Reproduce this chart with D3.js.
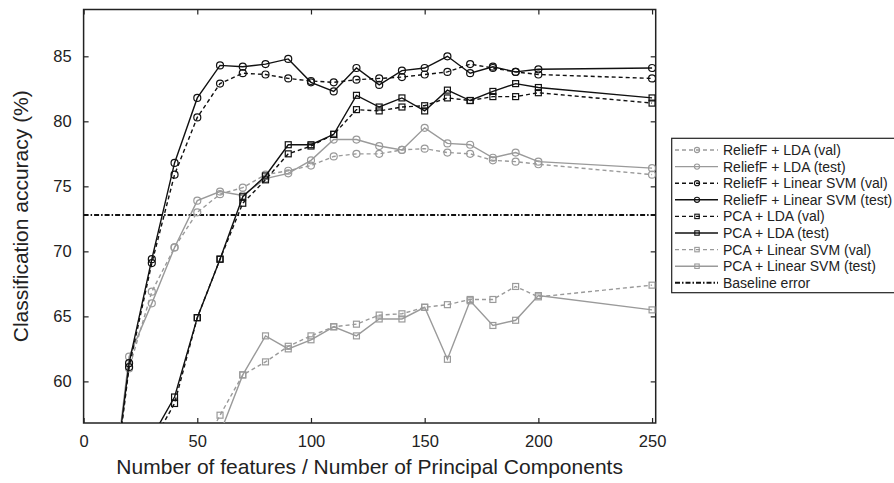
<!DOCTYPE html>
<html>
<head>
<meta charset="utf-8">
<script src="https://cdn.jsdelivr.net/npm/d3@7"></script>
<style>
  body { margin: 0; background: #fff; }
  svg { display: block; font-family: "Liberation Sans", Arial, sans-serif; }
</style>
</head>
<body>
<svg id="chart" width="894" height="483"></svg>
<script>
// --- Data ---
const features = [10, 20, 30, 40, 50, 60, 70, 80, 90, 100, 110, 120, 130, 140, 150, 160, 170, 180, 190, 200, 250];

const reliefLdaVal   = [48.0, 61.0, 66.9, 70.3, 73.0, 74.4, 74.9, 75.9, 76.2, 76.6, 77.3, 77.5, 77.5, 77.8, 77.9, 77.6, 77.5, 77.0, 76.9, 76.7, 75.9];
const reliefLdaTest  = [47.5, 61.9, 66.0, 70.3, 73.9, 74.6, 74.3, 75.6, 76.0, 77.0, 78.6, 78.6, 78.1, 77.8, 79.5, 78.3, 78.2, 77.2, 77.6, 76.9, 76.4];
const reliefSvmVal   = [47.0, 61.1, 69.1, 75.9, 80.3, 82.9, 83.7, 83.6, 83.3, 83.1, 83.0, 83.2, 83.3, 83.4, 83.6, 83.8, 84.4, 84.1, 83.8, 83.6, 83.3];
const reliefSvmTest  = [47.5, 61.4, 69.4, 76.8, 81.8, 84.3, 84.2, 84.4, 84.8, 83.0, 82.3, 84.1, 82.8, 83.9, 84.1, 85.0, 83.7, 84.2, 83.8, 84.0, 84.1];
const pcaLdaVal      = [45.0, 49.0, 55.2, 58.3, 64.9, 69.4, 73.7, 75.5, 77.5, 78.1, 79.0, 80.9, 80.8, 81.1, 81.2, 81.8, 81.6, 81.9, 81.9, 82.2, 81.4];
const pcaLdaTest     = [45.0, 49.5, 55.7, 58.8, 64.9, 69.4, 74.2, 75.8, 78.2, 78.2, 79.0, 82.0, 81.1, 81.8, 80.8, 82.4, 81.6, 82.3, 82.9, 82.6, 81.8];
const pcaSvmVal      = [null, null, null, null, 54.1, 57.4, 60.5, 61.5, 62.7, 63.5, 64.2, 64.4, 65.1, 65.2, 65.7, 65.9, 66.3, 66.3, 67.3, 66.5, 67.4];
const pcaSvmTest     = [null, null, null, null, 51.5, 56.0, 60.5, 63.5, 62.5, 63.2, 64.2, 63.5, 64.8, 64.8, 65.7, 61.7, 66.2, 64.3, 64.7, 66.6, 65.5];

const baselineError = 72.8;

const seriesNames = [
  "ReliefF + LDA (val)", "ReliefF + LDA (test)",
  "ReliefF + Linear SVM (val)", "ReliefF + Linear SVM (test)",
  "PCA + LDA (val)", "PCA + LDA (test)",
  "PCA + Linear SVM (val)", "PCA + Linear SVM (test)"
];
const baselineName = "Baseline error";

const xTicks = [0, 50, 100, 150, 200, 250];
const yTicks = [60, 65, 70, 75, 80, 85];

// --- Styles per series ---
const GREY = "#9a9a9a", BLACK = "#111";
const series = [
  { name: seriesNames[0], values: reliefLdaVal,  color: GREY,  dashed: true,  marker: "circle" },
  { name: seriesNames[1], values: reliefLdaTest, color: GREY,  dashed: false, marker: "circle" },
  { name: seriesNames[2], values: reliefSvmVal,  color: BLACK, dashed: true,  marker: "circle" },
  { name: seriesNames[3], values: reliefSvmTest, color: BLACK, dashed: false, marker: "circle" },
  { name: seriesNames[4], values: pcaLdaVal,     color: BLACK, dashed: true,  marker: "square" },
  { name: seriesNames[5], values: pcaLdaTest,    color: BLACK, dashed: false, marker: "square" },
  { name: seriesNames[6], values: pcaSvmVal,     color: GREY,  dashed: true,  marker: "square" },
  { name: seriesNames[7], values: pcaSvmTest,    color: GREY,  dashed: false, marker: "square" }
];

// --- Layout ---
const plot = { left: 83.6, right: 655.7, top: 9.5, bottom: 423 };
const svg = d3.select("#chart");

const x = d3.scaleLinear().domain([0, 251.6]).range([plot.left, plot.right]);
const y = d3.scaleLinear().domain([56.8, 88.6]).range([plot.bottom, plot.top]);

svg.append("defs").append("clipPath").attr("id", "clip")
  .append("rect")
  .attr("x", plot.left).attr("y", plot.top)
  .attr("width", plot.right - plot.left).attr("height", plot.bottom - plot.top);

// Axes with inward ticks on all four sides
const tickFont = "16.5px";
svg.append("g").attr("transform", `translate(0,${plot.bottom})`)
  .call(d3.axisBottom(x).tickValues(xTicks).tickSizeInner(-5).tickSizeOuter(0).tickPadding(12));
svg.append("g").attr("transform", `translate(0,${plot.top})`)
  .call(d3.axisTop(x).tickValues(xTicks).tickSizeInner(-5).tickSizeOuter(0).tickFormat(""));
svg.append("g").attr("transform", `translate(${plot.left},0)`)
  .call(d3.axisLeft(y).tickValues(yTicks).tickSizeInner(-5).tickSizeOuter(0).tickPadding(12));
svg.append("g").attr("transform", `translate(${plot.right},0)`)
  .call(d3.axisRight(y).tickValues(yTicks).tickSizeInner(-5).tickSizeOuter(0).tickFormat(""));

svg.selectAll(".domain").remove();
svg.selectAll(".tick line").attr("stroke", "#222").attr("stroke-width", 1.2);
svg.selectAll(".tick text").attr("font-size", tickFont).attr("fill", "#222")
  .attr("font-family", "'Liberation Sans', Arial, sans-serif");

// Frame
svg.append("rect")
  .attr("x", plot.left).attr("y", plot.top)
  .attr("width", plot.right - plot.left).attr("height", plot.bottom - plot.top)
  .attr("fill", "none").attr("stroke", "#222").attr("stroke-width", 1.5);

// Axis titles
svg.append("text")
  .attr("x", (plot.left + plot.right) / 2).attr("y", 474)
  .attr("text-anchor", "middle").attr("font-size", "21px").attr("fill", "#222")
  .text("Number of features / Number of Principal Components");
svg.append("text")
  .attr("transform", `translate(28,${(plot.top + plot.bottom) / 2}) rotate(-90)`)
  .attr("text-anchor", "middle").attr("font-size", "21px").attr("fill", "#222")
  .text("Classification accuracy (%)");

// --- Lines and markers ---
const g = svg.append("g").attr("clip-path", "url(#clip)");

// Baseline
g.append("line")
  .attr("x1", plot.left).attr("x2", plot.right)
  .attr("y1", y(baselineError)).attr("y2", y(baselineError))
  .attr("stroke", BLACK).attr("stroke-width", 2)
  .attr("stroke-dasharray", "5,2,1.5,2");

const line = d3.line()
  .defined(d => d.v != null)
  .x(d => x(d.x))
  .y(d => y(d.v));

function drawMarker(sel, type, size) {
  if (type === "circle") {
    sel.append("circle").attr("r", size).attr("cx", 0).attr("cy", 0);
  } else {
    sel.append("rect").attr("x", -size * 0.85).attr("y", -size * 0.85)
      .attr("width", size * 1.7).attr("height", size * 1.7);
  }
}

series.forEach(s => {
  const pts = features.map((f, i) => ({ x: f, v: s.values[i] }));
  g.append("path")
    .datum(pts)
    .attr("d", line)
    .attr("fill", "none")
    .attr("stroke", s.color)
    .attr("stroke-width", 1.4)
    .attr("stroke-dasharray", s.dashed ? "4,3" : null);

  g.selectAll(null)
    .data(pts.filter(d => d.v != null))
    .enter()
    .append("g")
    .attr("transform", d => `translate(${x(d.x)},${y(d.v)})`)
    .each(function () { drawMarker(d3.select(this), s.marker, 3.5); })
    .selectAll("circle, rect")
    .attr("fill", "none").attr("stroke", s.color).attr("stroke-width", 1.2);
});

// --- Legend ---
const legend = svg.append("g");
const lgX = 671.7, lgY = 138.3, rowH = 16.6;
legend.append("rect")
  .attr("x", lgX).attr("y", lgY).attr("width", 240).attr("height", 154.4)
  .attr("fill", "#fff").attr("stroke", "#222").attr("stroke-width", 1.2);

const legendItems = series.concat([{ name: baselineName, color: BLACK, baseline: true }]);
legendItems.forEach((s, i) => {
  const cy = lgY + 11.7 + i * rowH;
  const row = legend.append("g");
  row.append("line")
    .attr("x1", 675).attr("x2", 718).attr("y1", cy).attr("y2", cy)
    .attr("stroke", s.color)
    .attr("stroke-width", s.baseline ? 2 : 1.4)
    .attr("stroke-dasharray", s.baseline ? "5,2,1.5,2" : (s.dashed ? "4,3" : null));
  if (!s.baseline) {
    const m = row.append("g").attr("transform", `translate(697,${cy})`);
    drawMarker(m, s.marker, 2.6);
    m.selectAll("circle, rect").attr("fill", "none").attr("stroke", s.color).attr("stroke-width", 1.1);
  }
  row.append("text")
    .attr("x", 723).attr("y", cy).attr("dy", "0.35em")
    .attr("font-size", "14px").attr("fill", "#222")
    .text(s.name);
});
</script>
</body>
</html>
